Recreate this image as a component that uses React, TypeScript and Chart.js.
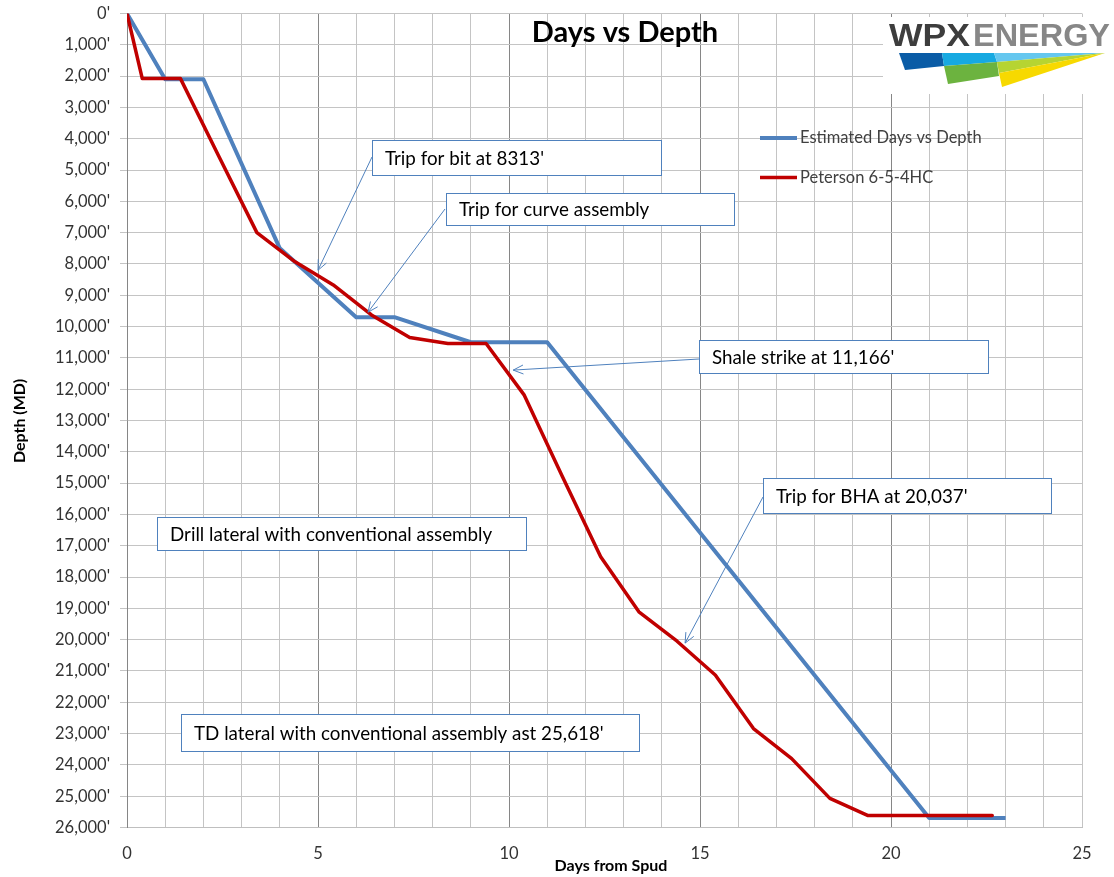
import React, { useEffect, useRef } from 'react';
import { Chart, registerables } from 'chart.js';

Chart.register(...registerables);

// ---- Data ----
const estDays = [0, 1, 2, 4, 6, 7, 9, 11, 21, 23];
const estDepth = [0, 2100, 2100, 7500, 9700, 9700, 10500, 10500, 25700, 25700];
const petDays = [0, 0.4, 1.4, 2.4, 3.4, 4.4, 5.4, 6.4, 7.4, 8.4, 9.4, 10.4, 11.4, 12.4, 13.4, 14.4, 15.4, 16.4, 17.4, 18.4, 19.4, 22.65];
const petDepth = [0, 2080, 2080, 4550, 7000, 7930, 8670, 9630, 10350, 10540, 10540, 12190, 14800, 17350, 19110, 20050, 21130, 22840, 23800, 25070, 25618, 25618];
const seriesNames = ['Estimated Days vs Depth', 'Peterson 6-5-4HC'];
const seriesColors = ['#4f81bd', '#c00000'];
const chartTitle = 'Days vs Depth';
const xTitle = 'Days from Spud';
const yTitle = 'Depth (MD)';
const xMin = 0, xMax = 25, xMajor = 5;
const yMin = 0, yMax = 26000, yStep = 1000;

// annotation texts and the data points their arrows point to
const noteTexts = [
  "Trip for bit at 8313'",
  'Trip for curve assembly',
  "Shale strike at 11,166'",
  "Trip for BHA at 20,037'",
  'Drill lateral with conventional assembly',
  "TD lateral with conventional assembly ast 25,618'",
];
const noteTipDays = [5.0, 6.31, 10.11, 14.61, 19.03, null];
const noteTipDepth = [8200, 9540, 11390, 20110, 25540, null];

// layout (pixels) of annotation boxes: [left, top, right, bottom], arrow start
const noteBoxes = [
  [372, 140, 661, 175],
  [446, 193, 734, 225],
  [699, 340, 988, 373],
  [763, 478, 1051, 513],
  [157, 517, 526, 550],
  [181, 714, 639, 751],
];
const noteStarts = [
  [372, 157],
  [445, 209],
  [699, 359],
  [763, 497],
  null,
  [640, 740],
];

const FONT = 'Lato, "Open Sans", "DejaVu Sans", sans-serif';

const fmtDepth = (v: number) => v.toLocaleString('en-US') + "'";

function drawArrow(ctx: CanvasRenderingContext2D, x1: number, y1: number, x2: number, y2: number) {
  ctx.beginPath();
  ctx.moveTo(x1, y1);
  ctx.lineTo(x2, y2);
  ctx.stroke();
  const ang = Math.atan2(y1 - y2, x1 - x2);
  const len = 11;
  const spread = 0.42;
  ctx.beginPath();
  ctx.moveTo(x2 + len * Math.cos(ang + spread), y2 + len * Math.sin(ang + spread));
  ctx.lineTo(x2, y2);
  ctx.lineTo(x2 + len * Math.cos(ang - spread), y2 + len * Math.sin(ang - spread));
  ctx.stroke();
}

function poly(ctx: CanvasRenderingContext2D, pts: number[][], color: string) {
  ctx.beginPath();
  ctx.moveTo(pts[0][0], pts[0][1]);
  for (let i = 1; i < pts.length; i++) ctx.lineTo(pts[i][0], pts[i][1]);
  ctx.closePath();
  ctx.fillStyle = color;
  ctx.fill();
}

function fitText(ctx: CanvasRenderingContext2D, text: string, x: number, y: number, w: number) {
  const m = ctx.measureText(text).width;
  ctx.save();
  ctx.translate(x, y);
  ctx.scale(w / m, 1);
  ctx.fillText(text, 0, 0);
  ctx.restore();
}

const overlayPlugin = {
  id: 'overlay',
  afterDraw(chart: any) {
    const ctx: CanvasRenderingContext2D = chart.ctx;
    const xs = chart.scales.x;
    const ys = chart.scales.y;
    ctx.save();

    // Title
    ctx.fillStyle = '#000';
    ctx.font = `bold 29px ${FONT}`;
    ctx.textAlign = 'center';
    ctx.textBaseline = 'alphabetic';
    ctx.fillText(chartTitle, 625, 41.5);

    // Axis titles
    ctx.font = `bold 16px ${FONT}`;
    ctx.textBaseline = 'middle';
    ctx.fillText(xTitle, 611, 866);
    ctx.save();
    ctx.translate(20, 421);
    ctx.rotate(-Math.PI / 2);
    ctx.fillText(yTitle, 0, 0);
    ctx.restore();

    // Legend
    ctx.textAlign = 'left';
    ctx.font = `16.5px ${FONT}`;
    const legY = [138, 177.5];
    for (let i = 0; i < 2; i++) {
      ctx.strokeStyle = seriesColors[i];
      ctx.lineWidth = i === 0 ? 4 : 3.5;
      ctx.lineCap = 'butt';
      ctx.beginPath();
      ctx.moveTo(760, legY[i]);
      ctx.lineTo(797, legY[i]);
      ctx.stroke();
      ctx.fillStyle = '#404040';
      ctx.fillText(seriesNames[i], 800, legY[i]);
    }

    // Annotations
    ctx.lineCap = 'butt';
    for (let i = 0; i < noteTexts.length; i++) {
      const st = noteStarts[i];
      const td = noteTipDays[i];
      const tv = noteTipDepth[i];
      if (st && td !== null && tv !== null) {
        ctx.strokeStyle = '#4f81bd';
        ctx.lineWidth = 1;
        drawArrow(ctx, st[0], st[1], xs.getPixelForValue(td), ys.getPixelForValue(tv));
      }
    }
    ctx.font = `18.8px ${FONT}`;
    for (let i = 0; i < noteTexts.length; i++) {
      const [l, t, r, b] = noteBoxes[i];
      ctx.fillStyle = '#fff';
      ctx.fillRect(l, t, r - l, b - t);
      ctx.strokeStyle = '#4f81bd';
      ctx.lineWidth = 1;
      ctx.strokeRect(Math.round(l) + 0.5, Math.round(t) + 0.5, r - l, b - t);
      ctx.fillStyle = '#000';
      ctx.textBaseline = 'middle';
      ctx.fillText(noteTexts[i], l + 13, (t + b) / 2 + 1);
    }

    // Logo
    ctx.fillStyle = '#fff';
    ctx.fillRect(883, 17, 231, 77);
    ctx.textBaseline = 'alphabetic';
    ctx.font = `bold 32px "Liberation Sans", Arial, sans-serif`;
    ctx.fillStyle = '#3d3d3d';
    fitText(ctx, 'WPX', 889, 46, 81);
    ctx.fillStyle = '#878787';
    fitText(ctx, 'ENERGY', 973, 46, 137);
    poly(ctx, [[899, 53], [942, 53], [944, 66], [905, 70]], '#0a5ca6');
    poly(ctx, [[942, 53], [994, 53], [997, 62], [944, 66]], '#16a9e1');
    poly(ctx, [[994, 53], [1105, 53], [997, 62]], '#65c7ef');
    poly(ctx, [[944, 66], [997, 62], [999, 76], [948, 84]], '#6cb33f');
    poly(ctx, [[997, 62], [1105, 53], [999, 73]], '#b6d432');
    poly(ctx, [[999, 73], [1105, 53], [1002, 87]], '#f7d900');

    ctx.restore();
  },
};

export default function App() {
  const ref = useRef<HTMLCanvasElement | null>(null);
  useEffect(() => {
    document.body.style.margin = '0';
    if (!ref.current) return;
    const chart = new Chart(ref.current, {
      type: 'line',
      data: {
        datasets: [
          {
            label: seriesNames[0],
            data: estDays.map((d, i) => ({ x: d, y: estDepth[i] })),
            borderColor: seriesColors[0],
            borderWidth: 4,
            pointRadius: 0,
            tension: 0,
            fill: false,
            borderJoinStyle: 'round',
            borderCapStyle: 'butt',
            order: 2,
          },
          {
            label: seriesNames[1],
            data: petDays.map((d, i) => ({ x: d, y: petDepth[i] })),
            borderColor: seriesColors[1],
            borderWidth: 3.5,
            pointRadius: 0,
            tension: 0,
            fill: false,
            borderJoinStyle: 'round',
            borderCapStyle: 'round',
            order: 1,
          },
        ],
      },
      options: {
        responsive: false,
        animation: false,
        devicePixelRatio: 1,
        layout: { padding: { top: 13.5, right: 32, left: 0, bottom: 0 } },
        plugins: {
          legend: { display: false },
          title: { display: false },
          tooltip: { enabled: false },
        },
        scales: {
          x: {
            type: 'linear',
            min: xMin,
            max: xMax,
            afterFit: (s: any) => { s.height = 49.5; s.paddingLeft = 0; s.paddingRight = 0; },
            ticks: {
              stepSize: 1,
              autoSkip: false,
              maxRotation: 0,
              padding: 16,
              color: '#333333',
              font: { family: FONT, size: 16.5 },
              callback: (v: any) => (Number(v) % xMajor === 0 ? String(v) : ''),
            },
            grid: {
              drawTicks: false,
              lineWidth: 1,
              color: (c: any) => {
                const v = c.tick ? c.tick.value : 0;
                return v % xMajor === 0 && v !== xMin && v !== xMax ? '#868686' : '#c4c4c4';
              },
            },
            border: { color: '#bfbfbf', width: 1 },
          },
          y: {
            type: 'linear',
            reverse: true,
            min: yMin,
            max: yMax,
            afterFit: (s: any) => { s.width = 127; s.paddingTop = 0; s.paddingBottom = 0; },
            ticks: {
              stepSize: yStep,
              autoSkip: false,
              padding: 10,
              color: '#333333',
              font: { family: FONT, size: 16.5 },
              callback: (v: any) => fmtDepth(Number(v)),
            },
            grid: { color: '#c4c4c4', lineWidth: 1, tickLength: 7 },
            border: { color: '#868686', width: 1 },
          },
        },
      },
      plugins: [overlayPlugin],
    } as any);
    return () => chart.destroy();
  }, []);
  return (
    <div style={{ width: 1114, height: 877 }}>
      <canvas ref={ref} width={1114} height={877} />
    </div>
  );
}
